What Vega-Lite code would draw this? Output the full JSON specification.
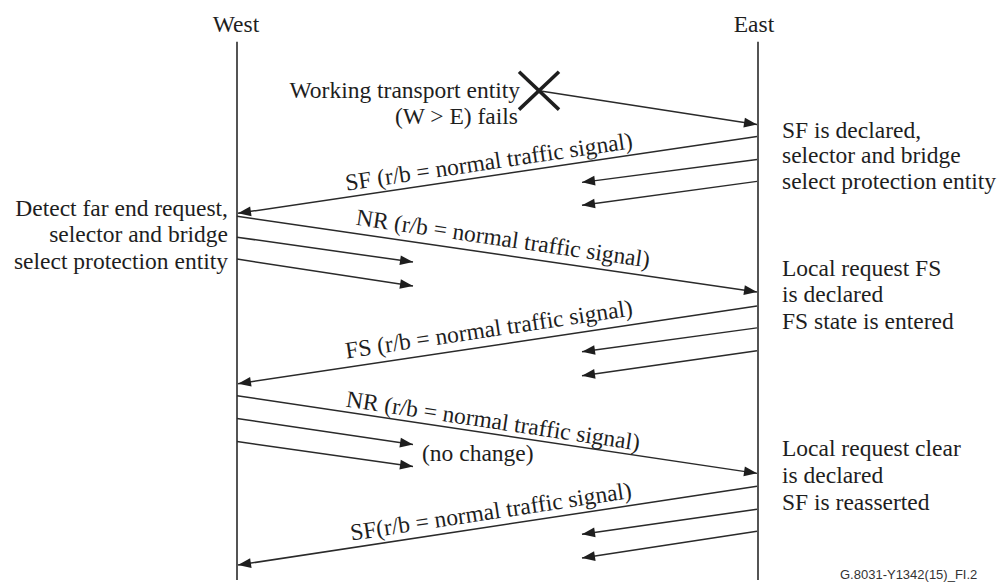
{
  "$schema": "https://vega.github.io/schema/vega-lite/v6.json",
  "width": 1004,
  "height": 582,
  "autosize": {"type": "fit", "contains": "padding"},
  "padding": 0,
  "background": "white",
  "config": {"view": {"stroke": null}},
  "datasets": {
    "lifelines": [
      {"name": "West", "x": 237, "y1": 42, "y2": 582},
      {"name": "East", "x": 758, "y1": 42, "y2": 582}
    ],
    "arrows": [
      {"x1": 539, "y1": 91, "x2": 757, "y2": 125},
      {"x1": 757, "y1": 137, "x2": 238, "y2": 214, "label": "SF (r/b = normal traffic signal)", "lx": 490, "ly": 170},
      {"x1": 757, "y1": 160, "x2": 582, "y2": 183},
      {"x1": 757, "y1": 182, "x2": 582, "y2": 206},
      {"x1": 237, "y1": 217, "x2": 757, "y2": 293, "label": "NR (r/b = normal traffic signal)", "lx": 502, "ly": 247},
      {"x1": 237, "y1": 238, "x2": 413, "y2": 263},
      {"x1": 237, "y1": 260, "x2": 413, "y2": 287},
      {"x1": 757, "y1": 307, "x2": 238, "y2": 385, "label": "FS (r/b = normal traffic signal)", "lx": 490, "ly": 338},
      {"x1": 757, "y1": 329, "x2": 582, "y2": 353},
      {"x1": 757, "y1": 352, "x2": 582, "y2": 377},
      {"x1": 237, "y1": 397, "x2": 757, "y2": 475, "label": "NR (r/b = normal traffic signal)", "lx": 492, "ly": 430},
      {"x1": 237, "y1": 420, "x2": 413, "y2": 446},
      {"x1": 237, "y1": 443, "x2": 413, "y2": 468},
      {"x1": 757, "y1": 488, "x2": 238, "y2": 567, "label": "SF(r/b = normal traffic signal)", "lx": 492, "ly": 521},
      {"x1": 757, "y1": 511, "x2": 582, "y2": 536},
      {"x1": 757, "y1": 533, "x2": 582, "y2": 560}
    ],
    "cross": [
      {"x1": 519, "y1": 72, "x2": 559, "y2": 110},
      {"x1": 519, "y1": 110, "x2": 559, "y2": 72}
    ],
    "notes": [
      {"text": "West", "x": 236, "y": 32, "anchor": "middle"},
      {"text": "East", "x": 754, "y": 32, "anchor": "middle"},
      {"text": "Working transport entity", "x": 520, "y": 98, "anchor": "end"},
      {"text": "(W > E) fails", "x": 518, "y": 124, "anchor": "end"},
      {"text": "SF is declared,", "x": 782, "y": 138, "anchor": "start"},
      {"text": "selector and bridge", "x": 782, "y": 164, "anchor": "start"},
      {"text": "select protection entity", "x": 782, "y": 190, "anchor": "start"},
      {"text": "Detect far end request,", "x": 228, "y": 217, "anchor": "end"},
      {"text": "selector and bridge", "x": 228, "y": 243, "anchor": "end"},
      {"text": "select protection entity", "x": 228, "y": 270, "anchor": "end"},
      {"text": "Local request FS", "x": 782, "y": 277, "anchor": "start"},
      {"text": "is declared", "x": 782, "y": 303, "anchor": "start"},
      {"text": "FS state is entered", "x": 782, "y": 330, "anchor": "start"},
      {"text": "(no change)", "x": 422, "y": 463, "anchor": "start"},
      {"text": "Local request clear", "x": 782, "y": 458, "anchor": "start"},
      {"text": "is declared", "x": 782, "y": 485, "anchor": "start"},
      {"text": "SF is reasserted", "x": 782, "y": 512, "anchor": "start"}
    ],
    "footer": [
      {"text": "G.8031-Y1342(15)_FI.2", "x": 840, "y": 581}
    ]
  },
  "layer": [
    {
      "data": {"name": "lifelines"},
      "mark": {"type": "rule", "color": "#2a2a2a", "strokeWidth": 1.6},
      "encoding": {
        "x": {"field": "x", "type": "quantitative", "scale": {"domain": [0, 1004], "nice": false, "zero": false}, "axis": null},
        "y": {"field": "y1", "type": "quantitative", "scale": {"domain": [0, 582], "nice": false, "zero": false, "reverse": true}, "axis": null},
        "y2": {"field": "y2"}
      }
    },
    {
      "data": {"name": "arrows"},
      "mark": {"type": "rule", "color": "#2a2a2a", "strokeWidth": 1.5},
      "encoding": {
        "x": {"field": "x1", "type": "quantitative", "scale": {"domain": [0, 1004], "nice": false, "zero": false}, "axis": null},
        "y": {"field": "y1", "type": "quantitative", "scale": {"domain": [0, 582], "nice": false, "zero": false, "reverse": true}, "axis": null},
        "x2": {"field": "x2"},
        "y2": {"field": "y2"}
      }
    },
    {
      "data": {"name": "arrows"},
      "transform": [
        {"calculate": "atan2(datum.y2 - datum.y1, datum.x2 - datum.x1) * 180 / PI", "as": "ang"}
      ],
      "mark": {"type": "point", "shape": "M0,0L-2,-0.75L-2,0.75Z", "filled": true, "size": 169, "color": "#1e1e1e", "opacity": 1, "strokeWidth": 0},
      "encoding": {
        "x": {"field": "x2", "type": "quantitative", "scale": {"domain": [0, 1004], "nice": false, "zero": false}, "axis": null},
        "y": {"field": "y2", "type": "quantitative", "scale": {"domain": [0, 582], "nice": false, "zero": false, "reverse": true}, "axis": null},
        "angle": {"field": "ang", "type": "quantitative", "scale": null}
      }
    },
    {
      "data": {"name": "arrows"},
      "transform": [
        {"filter": "isValid(datum.label)"},
        {"calculate": "atan2(datum.y2 - datum.y1, datum.x2 - datum.x1) * 180 / PI", "as": "a0"},
        {"calculate": "datum.x2 < datum.x1 ? datum.a0 - 180 : datum.a0", "as": "ang"}
      ],
      "mark": {"type": "text", "font": "Liberation Serif", "fontSize": 23.5, "color": "#1e1e1e", "align": "center", "baseline": "alphabetic"},
      "encoding": {
        "x": {"field": "lx", "type": "quantitative", "scale": {"domain": [0, 1004], "nice": false, "zero": false}, "axis": null},
        "y": {"field": "ly", "type": "quantitative", "scale": {"domain": [0, 582], "nice": false, "zero": false, "reverse": true}, "axis": null},
        "angle": {"field": "ang", "type": "quantitative", "scale": null},
        "text": {"field": "label"}
      }
    },
    {
      "data": {"name": "cross"},
      "mark": {"type": "rule", "color": "#1e1e1e", "strokeWidth": 3.5},
      "encoding": {
        "x": {"field": "x1", "type": "quantitative", "scale": {"domain": [0, 1004], "nice": false, "zero": false}, "axis": null},
        "y": {"field": "y1", "type": "quantitative", "scale": {"domain": [0, 582], "nice": false, "zero": false, "reverse": true}, "axis": null},
        "x2": {"field": "x2"},
        "y2": {"field": "y2"}
      }
    },
    {
      "data": {"name": "notes"},
      "transform": [{"filter": "datum.anchor === 'middle'"}],
      "mark": {"type": "text", "font": "Liberation Serif", "fontSize": 23.5, "color": "#1e1e1e", "align": "center", "baseline": "alphabetic"},
      "encoding": {
        "x": {"field": "x", "type": "quantitative", "scale": {"domain": [0, 1004], "nice": false, "zero": false}, "axis": null},
        "y": {"field": "y", "type": "quantitative", "scale": {"domain": [0, 582], "nice": false, "zero": false, "reverse": true}, "axis": null},
        "text": {"field": "text"}
      }
    },
    {
      "data": {"name": "notes"},
      "transform": [{"filter": "datum.anchor === 'start'"}],
      "mark": {"type": "text", "font": "Liberation Serif", "fontSize": 23.5, "color": "#1e1e1e", "align": "left", "baseline": "alphabetic"},
      "encoding": {
        "x": {"field": "x", "type": "quantitative", "scale": {"domain": [0, 1004], "nice": false, "zero": false}, "axis": null},
        "y": {"field": "y", "type": "quantitative", "scale": {"domain": [0, 582], "nice": false, "zero": false, "reverse": true}, "axis": null},
        "text": {"field": "text"}
      }
    },
    {
      "data": {"name": "notes"},
      "transform": [{"filter": "datum.anchor === 'end'"}],
      "mark": {"type": "text", "font": "Liberation Serif", "fontSize": 23.5, "color": "#1e1e1e", "align": "right", "baseline": "alphabetic"},
      "encoding": {
        "x": {"field": "x", "type": "quantitative", "scale": {"domain": [0, 1004], "nice": false, "zero": false}, "axis": null},
        "y": {"field": "y", "type": "quantitative", "scale": {"domain": [0, 582], "nice": false, "zero": false, "reverse": true}, "axis": null},
        "text": {"field": "text"}
      }
    },
    {
      "data": {"name": "footer"},
      "mark": {"type": "text", "font": "Liberation Sans", "fontSize": 13, "color": "#333333", "align": "left", "baseline": "alphabetic"},
      "encoding": {
        "x": {"field": "x", "type": "quantitative", "scale": {"domain": [0, 1004], "nice": false, "zero": false}, "axis": null},
        "y": {"field": "y", "type": "quantitative", "scale": {"domain": [0, 582], "nice": false, "zero": false, "reverse": true}, "axis": null},
        "text": {"field": "text"}
      }
    }
  ]
}
